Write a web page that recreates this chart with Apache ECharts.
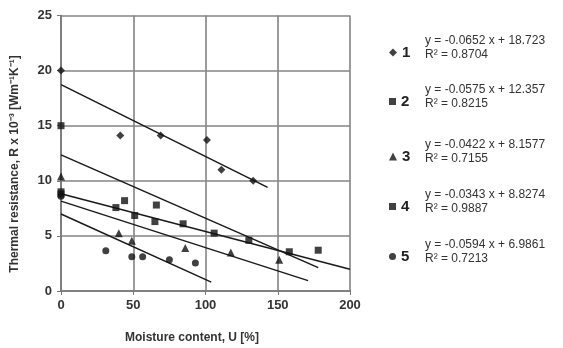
<!DOCTYPE html>
<html>
<head>
<meta charset="utf-8">
<script src="https://cdn.jsdelivr.net/npm/echarts@6/dist/echarts.min.js"></script>
<style>
  html, body { margin: 0; padding: 0; background: #fff; }
  #thermal-resistance { width: 563px; height: 348px; }
</style>
</head>
<body>
<div id="thermal-resistance"></div>
<script>
    // measured points, [moisture %, R x 10^-3]
    var set1 = [[0, 20.0], [41, 14.1], [69, 14.1], [101, 13.7], [111, 11.0], [133, 10.0]];
    var set2 = [[0, 15.0], [0, 9.0], [44, 8.2], [66, 7.8], [178, 3.7]];
    var set3 = [[0, 10.4], [40, 5.25], [49, 4.55], [86, 3.9], [117.5, 3.5], [151, 2.83]];
    var set4 = [[0, 8.8], [38, 7.57], [51, 6.85], [65, 6.3], [84.5, 6.1], [106, 5.25], [130, 4.6], [158, 3.56]];
    var set5 = [[0, 8.6], [31, 3.65], [49, 3.1], [56.5, 3.1], [75, 2.84], [93, 2.54]];

    // linear trend lines (from the equations on the right)
    var slopes = [-0.0652, -0.0575, -0.0422, -0.0343, -0.0594];
    var intercepts = [18.723, 12.357, 8.1577, 8.8274, 6.9861];
    var lineEnds = [143, 178, 171, 200, 104];
    var equations = ['y = -0.0652 x + 18.723', 'y = -0.0575 x + 12.357', 'y = -0.0422 x + 8.1577',
                     'y = -0.0343 x + 8.8274', 'y = -0.0594 x + 6.9861'];
    var rSquared = ['R² = 0.8704', 'R² = 0.8215', 'R² = 0.7155', 'R² = 0.9887', 'R² = 0.7213'];

    var names = ['1', '2', '3', '4', '5'];
    var xTicks = [0, 50, 100, 150, 200];
    var yTicks = [0, 5, 10, 15, 20, 25];

    var sets = [set1, set2, set3, set4, set5];
    var symbols = ['diamond', 'rect', 'triangle', 'rect', 'circle'];
    var symbolSizes = [8, 7, 8, 7, 7];
    var legendY = [48, 97, 152, 202, 252];

    var chart = echarts.init(document.getElementById('thermal-resistance'));

    var series = [];
    var legends = [];
    var graphics = [];
    for (var i = 0; i < 5; i++) {
        series.push({
            name: names[i],
            type: 'scatter',
            symbol: symbols[i],
            symbolSize: symbolSizes[i],
            itemStyle: { color: '#111' },
            data: sets[i],
            z: 4
        });
        series.push({
            name: 'trend ' + names[i],
            type: 'line',
            symbol: 'none',
            silent: true,
            lineStyle: { color: '#1a1a1a', width: 1.5 },
            data: [[0, intercepts[i]], [lineEnds[i], slopes[i] * lineEnds[i] + intercepts[i]]],
            z: 3
        });
        legends.push({
            data: [{ name: names[i], icon: symbols[i] }],
            left: 384,
            top: legendY[i] - 8,
            itemWidth: symbolSizes[i],
            itemHeight: symbolSizes[i],
            selectedMode: false,
            textStyle: { fontFamily: 'Liberation Sans', fontWeight: 'bold', fontSize: 15, color: '#222' }
        });
        graphics.push({
            type: 'text', left: 425, top: legendY[i] - 13,
            style: { text: equations[i], font: '12px "Liberation Sans"', fill: '#333' }
        });
        graphics.push({
            type: 'text', left: 425, top: legendY[i] + 1,
            style: { text: rSquared[i], font: '12px "Liberation Sans"', fill: '#333' }
        });
    }

    graphics.push({
        type: 'text', x: 15, y: 164, rotation: Math.PI / 2,
        style: {
            text: 'Thermal resistance, R x 10⁻³ [Wm⁻¹K⁻¹]',
            font: 'bold 12px "Liberation Sans"', fill: '#333',
            align: 'center', verticalAlign: 'middle'
        }
    });
    graphics.push({
        type: 'text', x: 192, y: 338,
        style: {
            text: 'Moisture content, U [%]',
            font: 'bold 12px "Liberation Sans"', fill: '#333',
            align: 'center', verticalAlign: 'middle'
        }
    });

    var gridLine = { show: true, lineStyle: { color: '#858585', width: 1.6 } };
    var axisText = { fontFamily: 'Liberation Sans', fontWeight: 'bold', fontSize: 13, color: '#333' };

    var option = {
        backgroundColor: '#fff',
        animation: false,
        grid: { left: 61, right: 213, top: 15.5, bottom: 57, containLabel: false },
        legend: legends,
        xAxis: {
            type: 'value',
            min: xTicks[0],
            max: xTicks[xTicks.length - 1],
            interval: 50,
            axisLine: { show: true, lineStyle: { color: '#777', width: 1.6 } },
            axisTick: { show: true, length: 4, lineStyle: { color: '#777' } },
            axisLabel: Object.assign({ margin: 8 }, axisText),
            splitLine: gridLine
        },
        yAxis: {
            type: 'value',
            min: yTicks[0],
            max: yTicks[yTicks.length - 1],
            interval: 5,
            axisLine: { show: true, lineStyle: { color: '#777', width: 1.6 } },
            axisTick: { show: true, length: 4, lineStyle: { color: '#777' } },
            axisLabel: Object.assign({ margin: 9 }, axisText),
            splitLine: gridLine
        },
        graphic: graphics,
        series: series
    };
    chart.setOption(option);
</script>
</body>
</html>
